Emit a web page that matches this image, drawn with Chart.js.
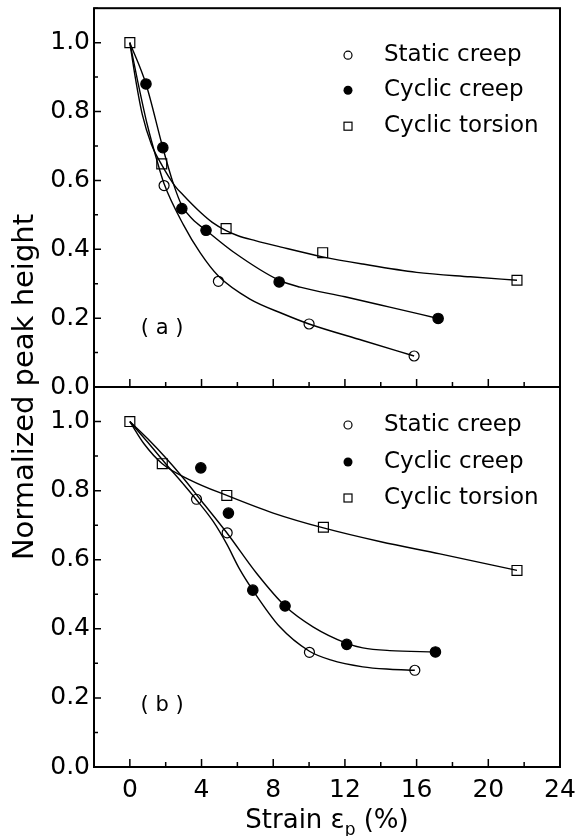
<!DOCTYPE html>
<html>
<head>
<meta charset="utf-8">
<script src="https://cdn.jsdelivr.net/npm/chart.js@4.4.1/dist/chart.umd.min.js"></script>
<style>
  body { margin: 0; background: #fff; }
  #wrap { position: relative; width: 578px; height: 836px; }
  canvas { position: absolute; left: 0; top: 0; }
</style>
</head>
<body>
<div id="wrap">
  <canvas id="panelB" width="578" height="836"></canvas>
  <canvas id="panelA" width="578" height="836"></canvas>
</div>
<script>
const seriesNames = ['Static creep', 'Cyclic creep', 'Cyclic torsion'];
const xTickLabels = [0, 4, 8, 12, 16, 20, 24];
const yTickLabels = [0.0, 0.2, 0.4, 0.6, 0.8, 1.0];

// panel (a) measured points
const staticA_x = [1.91, 4.94, 10.0, 15.86];
const staticA_y = [0.585, 0.307, 0.183, 0.09];
const creepA_x = [0.9, 1.84, 2.9, 4.25, 8.33, 17.2];
const creepA_y = [0.88, 0.695, 0.518, 0.455, 0.305, 0.199];
const torsionA_x = [0, 1.78, 5.37, 10.76, 21.6];
const torsionA_y = [1.0, 0.648, 0.46, 0.39, 0.31];
// panel (a) fitted curves
const staticFitA_x = [0, 0.43, 0.98, 1.5, 1.91, 3, 3.92, 4.94, 6.7, 8.57, 10, 13, 15.86];
const staticFitA_y = [1, 0.89, 0.76, 0.66, 0.59, 0.47, 0.39, 0.322, 0.255, 0.212, 0.183, 0.135, 0.09];
const creepFitA_x = [0, 0.9, 1.84, 2.4, 2.9, 3.5, 4.25, 5.78, 8.33, 9.5, 12, 14.5, 17.2];
const creepFitA_y = [1, 0.88, 0.695, 0.595, 0.527, 0.487, 0.455, 0.392, 0.31, 0.29, 0.262, 0.232, 0.199];
const torsionFitA_x = [0, 0.3, 0.7, 1.2, 1.78, 2.5, 3, 3.92, 4.6, 5.37, 6, 7, 8.38, 10.76, 13, 16, 19, 21.6];
const torsionFitA_y = [1, 0.9, 0.79, 0.705, 0.645, 0.585, 0.556, 0.508, 0.478, 0.454, 0.44, 0.425, 0.407, 0.378, 0.357, 0.333, 0.32, 0.31];

// panel (b) measured points
const staticB_x = [3.72, 5.43, 10.02, 15.9];
const staticB_y = [0.775, 0.678, 0.332, 0.28];
const creepB_x = [3.96, 5.5, 6.86, 8.66, 12.1, 17.05];
const creepB_y = [0.866, 0.735, 0.512, 0.466, 0.355, 0.333];
const torsionB_x = [0, 1.81, 5.41, 10.8, 21.6];
const torsionB_y = [1.0, 0.878, 0.786, 0.694, 0.569];
// panel (b) fitted curves
const staticFitB_x = [0, 1, 2, 3, 3.69, 4.66, 5.41, 6.1, 6.86, 8.38, 10.02, 11.2, 13, 14.5, 15.9];
const staticFitB_y = [1, 0.94, 0.878, 0.818, 0.775, 0.71, 0.645, 0.575, 0.512, 0.405, 0.335, 0.31, 0.29, 0.283, 0.28];
const creepFitB_x = [0, 1, 2, 3, 4, 5.41, 7.08, 8.66, 10.24, 12.1, 13, 14.5, 17.05];
const creepFitB_y = [1, 0.95, 0.895, 0.835, 0.77, 0.678, 0.56, 0.466, 0.405, 0.358, 0.345, 0.337, 0.333];
const torsionFitB_x = [0, 0.8, 1.81, 3.4, 5.41, 8, 10.8, 14, 17.3, 21.6];
const torsionFitB_y = [1, 0.935, 0.878, 0.83, 0.786, 0.735, 0.692, 0.652, 0.617, 0.569];

const FONT = '"DejaVu Sans", sans-serif';
Chart.defaults.font.family = FONT;
Chart.defaults.color = '#000';

const pts = (xs, ys) => xs.map((x, i) => ({ x: x, y: ys[i] }));

function fitLine(xs, ys) {
  return {
    data: pts(xs, ys), showLine: true, pointRadius: 0,
    borderColor: '#000', borderWidth: 1.4, cubicInterpolationMode: 'monotone'
  };
}
function markers(xs, ys, style, filled, r) {
  return {
    data: pts(xs, ys), showLine: false, pointStyle: style, pointRadius: r,
    pointBorderColor: '#000', pointBorderWidth: 1.2,
    pointBackgroundColor: filled ? '#000' : 'rgba(0,0,0,0)'
  };
}

// box + inward tick marks
const frame = {
  id: 'frame',
  afterDraw(chart) {
    const { ctx, chartArea: a, scales: { x, y } } = chart;
    ctx.save();
    ctx.strokeStyle = '#000';
    ctx.lineWidth = 1.5;
    ctx.beginPath();
    x.ticks.forEach(t => {
      const px = x.getPixelForValue(t.value);
      const len = xTickLabels.includes(t.value) ? 8 : 5;
      ctx.moveTo(px, a.bottom); ctx.lineTo(px, a.bottom - len);
    });
    y.ticks.forEach(t => {
      const py = y.getPixelForValue(t.value);
      const len = t.label !== '' ? 7 : 4;
      ctx.moveTo(a.left, py); ctx.lineTo(a.left + len, py);
    });
    ctx.stroke();
    ctx.lineWidth = 2;
    ctx.strokeRect(a.left, a.top, a.right - a.left, a.bottom - a.top);
    ctx.restore();
  }
};

// panel letter, in-plot legend and (for the lower panel) the axis titles
const panelText = {
  id: 'panelText',
  afterDraw(chart, args, opts) {
    const { ctx, chartArea: a, scales: { x, y } } = chart;
    ctx.save();
    ctx.fillStyle = '#000';
    ctx.strokeStyle = '#000';
    ctx.font = '21px ' + FONT;
    ctx.textAlign = 'center';
    ctx.textBaseline = 'middle';
    ctx.fillText(opts.letter, x.getPixelForValue(1.8), y.getPixelForValue(opts.letterY));

    ctx.font = '23px ' + FONT;
    ctx.textAlign = 'left';
    seriesNames.forEach((name, i) => {
      const my = a.top + opts.legendRows[i];
      const mx = 348;
      ctx.lineWidth = 1.2;
      ctx.beginPath();
      if (i === 0) { ctx.arc(mx, my, 4, 0, Math.PI * 2); ctx.stroke(); }
      else if (i === 1) { ctx.arc(mx, my, 4.5, 0, Math.PI * 2); ctx.fill(); }
      else { ctx.strokeRect(mx - 4, my - 4, 8, 8); }
      ctx.fillText(name, 384, my);
    });

    if (opts.titles) {
      // y title, centred on both panels
      ctx.save();
      ctx.translate(33, 387);
      ctx.rotate(-Math.PI / 2);
      ctx.font = '29px ' + FONT;
      ctx.textAlign = 'center';
      ctx.textBaseline = 'alphabetic';
      ctx.fillText('Normalized peak height', 0, 0);
      ctx.restore();
      // x title with subscript
      const main1 = 'Strain \u03b5', sub = 'p', main2 = ' (%)';
      ctx.textBaseline = 'alphabetic';
      ctx.font = '26px ' + FONT;
      const w1 = ctx.measureText(main1).width, w3 = ctx.measureText(main2).width;
      ctx.font = '17px ' + FONT;
      const w2 = ctx.measureText(sub).width;
      const sx = (a.left + a.right) / 2 - (w1 + w2 + w3) / 2;
      const base = 828;
      ctx.font = '26px ' + FONT;
      ctx.fillText(main1, sx, base);
      ctx.font = '17px ' + FONT;
      ctx.fillText(sub, sx + w1, base + 7);
      ctx.font = '26px ' + FONT;
      ctx.fillText(main2, sx + w1 + w2, base);
    }
    ctx.restore();
  }
};

function makePanel(id, sets, cfg) {
  return new Chart(document.getElementById(id), {
    type: 'scatter',
    data: {
      datasets: [
        fitLine(sets.sfx, sets.sfy),
        fitLine(sets.cfx, sets.cfy),
        fitLine(sets.tfx, sets.tfy),
        markers(sets.sx, sets.sy, 'circle', false, 5),
        markers(sets.cx, sets.cy, 'circle', true, 5.2),
        markers(sets.tx, sets.ty, 'rect', false, 7)
      ]
    },
    options: {
      responsive: false,
      animation: false,
      events: [],
      layout: { padding: { top: cfg.top, right: 18, left: 0, bottom: 0 } },
      scales: {
        x: {
          type: 'linear', min: -2, max: 24,
          afterFit: s => { s.height = cfg.xHeight; s.paddingLeft = 0; s.paddingRight = 0; },
          grid: { display: false, drawTicks: false },
          border: { display: false },
          ticks: {
            stepSize: 2, autoSkip: false, maxRotation: 0, padding: 8,
            font: { size: 25 },
            callback: v => (cfg.xLabels && xTickLabels.includes(v)) ? String(v) : ''
          }
        },
        y: {
          type: 'linear', min: 0, max: 1.1,
          afterFit: s => { s.width = 94; s.paddingTop = 0; s.paddingBottom = 0; },
          grid: { display: false, drawTicks: false },
          border: { display: false },
          ticks: {
            stepSize: 0.1, autoSkip: false, padding: 4,
            font: { size: 25 },
            callback: v => yTickLabels.includes(+v.toFixed(1)) ? v.toFixed(1) : ''
          }
        }
      },
      plugins: {
        legend: { display: false },
        tooltip: { enabled: false },
        panelText: cfg.text
      }
    },
    plugins: [frame, panelText]
  });
}

makePanel('panelA', {
  sx: staticA_x, sy: staticA_y, cx: creepA_x, cy: creepA_y, tx: torsionA_x, ty: torsionA_y,
  sfx: staticFitA_x, sfy: staticFitA_y, cfx: creepFitA_x, cfy: creepFitA_y, tfx: torsionFitA_x, tfy: torsionFitA_y
}, { top: 8, xHeight: 836 - 387, xLabels: false,
     text: { letter: '( a )', letterY: 0.171, legendRows: [47, 82, 118], titles: false } });

makePanel('panelB', {
  sx: staticB_x, sy: staticB_y, cx: creepB_x, cy: creepB_y, tx: torsionB_x, ty: torsionB_y,
  sfx: staticFitB_x, sfy: staticFitB_y, cfx: creepFitB_x, cfy: creepFitB_y, tfx: torsionFitB_x, tfy: torsionFitB_y
}, { top: 387, xHeight: 836 - 767, xLabels: true,
     text: { letter: '( b )', letterY: 0.179, legendRows: [38, 75, 111], titles: true } });
</script>
</body>
</html>
